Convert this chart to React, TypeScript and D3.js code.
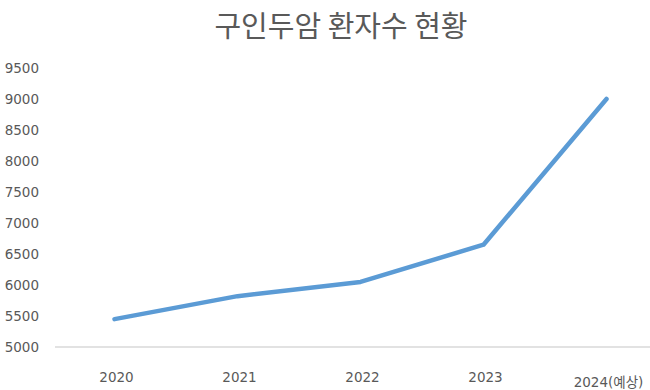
import React, { useEffect, useRef } from "react";
import * as d3 from "d3";

const years = ["2020", "2021", "2022", "2023", "2024(예상)"];
const patients = [5450, 5820, 6050, 6650, 9000];
const yTicks = [5000, 5500, 6000, 6500, 7000, 7500, 8000, 8500, 9000, 9500];
const title = "구인두암 환자수 현황";

const App = () => {
  const ref = useRef<SVGSVGElement>(null);

  useEffect(() => {
    const width = 650;
    const height = 390;
    const svg = d3.select(ref.current);
    svg.selectAll("*").remove();

    const font = "'Noto Sans CJK KR', 'Noto Sans', sans-serif";
    const tickFont = "'DejaVu Sans', 'Noto Sans CJK KR', sans-serif";
    const gray = "#595959";

    const x = d3.scaleBand().domain(years).range([55, 670]);
    const y = d3.scaleLinear().domain([5000, 9500]).range([347, 68]);

    svg.append("rect").attr("width", width).attr("height", height).attr("fill", "#fff");

    svg.append("text")
      .attr("x", 341)
      .attr("y", 37)
      .attr("text-anchor", "middle")
      .attr("font-family", font)
      .attr("font-size", 29)
      .attr("fill", gray)
      .text(title);

    // y labels
    svg.append("g")
      .selectAll("text")
      .data(yTicks)
      .enter()
      .append("text")
      .attr("x", 39)
      .attr("y", d => y(d))
      .attr("dy", "0.35em")
      .attr("text-anchor", "end")
      .attr("font-family", tickFont)
      .attr("font-size", 13.5)
      .attr("fill", gray)
      .text(d => d);

    // baseline
    svg.append("line")
      .attr("x1", 55)
      .attr("x2", width)
      .attr("y1", y(5000))
      .attr("y2", y(5000))
      .attr("stroke", "#d9d9d9")
      .attr("stroke-width", 1.5);

    // x labels
    svg.append("g")
      .selectAll("text")
      .data(years)
      .enter()
      .append("text")
      .attr("x", d => x(d)! + x.bandwidth() / 2)
      .attr("y", (d, i) => (i === years.length - 1 ? 382 : 377))
      .attr("dy", "0.35em")
      .attr("text-anchor", "middle")
      .attr("font-family", tickFont)
      .attr("font-size", 13.5)
      .attr("fill", gray)
      .text(d => d);

    const line = d3.line<number>()
      .x((d, i) => x(years[i])! + x.bandwidth() / 2 - 2)
      .y(d => y(d));

    svg.append("path")
      .datum(patients)
      .attr("d", line)
      .attr("fill", "none")
      .attr("stroke", "#5b9bd5")
      .attr("stroke-width", 4.5)
      .attr("stroke-linecap", "round")
      .attr("stroke-linejoin", "round");
  }, []);

  return (
    <svg
      ref={ref}
      width={650}
      height={390}
      style={{ position: "absolute", left: 0, top: 0 }}
    />
  );
};

export default App;
